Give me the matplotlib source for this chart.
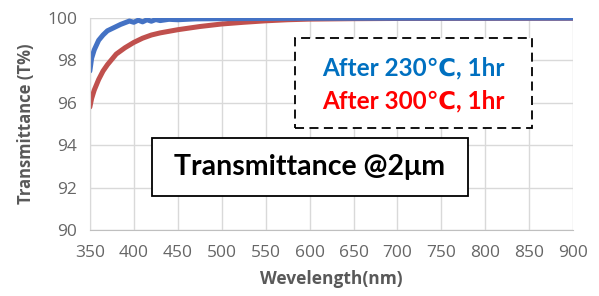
import matplotlib.pyplot as plt
from matplotlib.patches import Rectangle

# data
wl_230 = [350, 352, 355, 360, 365, 370, 375, 380, 385, 390, 395, 400, 405, 410,
          415, 420, 425, 430, 440, 450, 470, 500, 550, 600, 900]
t_230 = [97.5, 98.1, 98.5, 98.95, 99.2, 99.4, 99.5, 99.6, 99.7, 99.78, 99.86, 99.8,
         99.9, 99.82, 99.92, 99.85, 99.93, 99.88, 99.94, 99.92, 99.96, 99.97, 99.98, 99.99, 100.0]

wl_300 = [350, 352, 355, 360, 365, 370, 375, 380, 390, 400, 410, 420, 430, 450,
          475, 500, 525, 550, 575, 600, 650, 700, 900]
t_300 = [95.8, 96.2, 96.6, 97.1, 97.5, 97.8, 98.05, 98.3, 98.6, 98.85, 99.05, 99.2,
         99.3, 99.45, 99.6, 99.72, 99.8, 99.87, 99.92, 99.95, 99.97, 99.98, 99.99]

xticks = list(range(350, 901, 50))
yticks = [90, 92, 94, 96, 98, 100]

fig = plt.figure(figsize=(5.99, 2.96), dpi=100)
ax = fig.add_axes([0.150, 0.223, 0.807, 0.716])

ax.plot(wl_300, t_300, color='#C0504D', lw=3.6, solid_capstyle='round')
ax.plot(wl_230, t_230, color='#4472C4', lw=3.6, solid_capstyle='round')

ax.set_xlim(350, 900)
ax.set_ylim(90, 100)
ax.set_xticks(xticks)
ax.set_yticks(yticks)
ax.grid(True, color='#D9D9D9', lw=1)
ax.set_axisbelow(True)
for s in ['top', 'right']:
    ax.spines[s].set_visible(False)
ax.spines['left'].set_color('#D9D9D9')
ax.spines['bottom'].set_color('#BFBFBF')
ax.tick_params(length=0, labelsize=12.5, labelcolor='#666666')
ax.tick_params(axis='x', pad=11)
ax.tick_params(axis='y', pad=9)
for lab in ax.get_xticklabels() + ax.get_yticklabels():
    lab.set_family('Open Sans')

ax.set_xlabel('Wevelength(nm)', fontsize=12.5, fontweight='bold', color='#595959',
              family='Open Sans', labelpad=6)
ax.set_ylabel('Transmittance (T%)', fontsize=12, fontweight='bold', color='#595959',
              family='Open Sans', labelpad=9)

# legend-like dashed box
fig.patches.append(Rectangle((295 / 599, 1 - 128 / 296), 237 / 599, 90 / 296,
                             transform=fig.transFigure, fill=True, fc='white',
                             ec='black', lw=1.3, ls=(0, (5, 3))))
fig.text(413 / 599, 1 - 68 / 296, 'After 230\u2103, 1hr', color='#0070C0',
         fontsize=17.5, fontweight='bold', family=['Lato', 'DejaVu Sans'],
         ha='center', va='center')
fig.text(413 / 599, 1 - 101 / 296, 'After 300\u2103, 1hr', color='#FF0000',
         fontsize=17.5, fontweight='bold', family=['Lato', 'DejaVu Sans'],
         ha='center', va='center')

# title box
fig.patches.append(Rectangle((152 / 599, 1 - 196 / 296), 316 / 599, 58 / 296,
                             transform=fig.transFigure, fill=True, fc='white',
                             ec='black', lw=1.3))
fig.text(310 / 599, 1 - 167 / 296, 'Transmittance @2\u03bcm', color='black',
         fontsize=20.5, fontweight='bold', family=['Lato', 'DejaVu Sans'],
         ha='center', va='center')

fig.savefig('out.png', dpi=100)
